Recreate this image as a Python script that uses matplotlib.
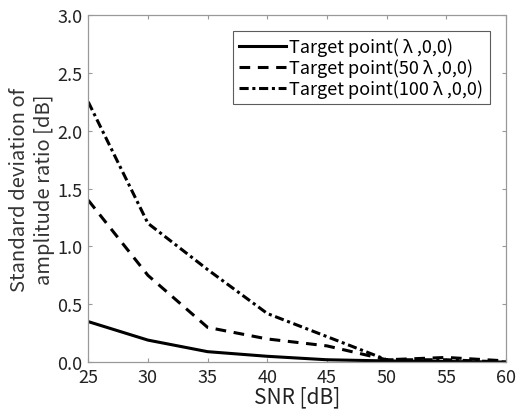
import matplotlib
matplotlib.use("Agg")
import matplotlib.pyplot as plt

plt.rcParams['font.family'] = ['Noto Sans CJK JP', 'DejaVu Sans']

snr = [25, 30, 35, 40, 45, 50, 55, 60]
std_lambda = [0.35, 0.19, 0.09, 0.05, 0.02, 0.01, 0.005, 0.0]
std_50lambda = [1.40, 0.75, 0.30, 0.20, 0.14, 0.02, 0.04, 0.01]
std_100lambda = [2.25, 1.20, 0.80, 0.42, 0.22, 0.02, 0.02, 0.0]
labels = ["Target point( λ ,0,0)", "Target point(50 λ ,0,0)", "Target point(100 λ ,0,0)"]
xticks = [25, 30, 35, 40, 45, 50, 55, 60]
yticks = [0.0, 0.5, 1.0, 1.5, 2.0, 2.5, 3.0]

fig = plt.figure(figsize=(5.19, 4.14), dpi=100)
ax = fig.add_axes([0.170, 0.123, 0.805, 0.838])

ax.plot(snr, std_lambda, color='black', lw=2.2, ls='-', label=labels[0])
ax.plot(snr, std_50lambda, color='black', lw=2.2, ls=(0, (3.5, 2.5)), label=labels[1])
ax.plot(snr, std_100lambda, color='black', lw=2.2, ls=(0, (3, 1.2, 1, 1.2)), label=labels[2])

ax.set_xlim(25, 60)
ax.set_ylim(0, 3.0)
ax.set_xticks(xticks)
ax.set_yticks(yticks)
ax.set_yticklabels([f"{v:.1f}" for v in yticks])
ax.tick_params(direction='in', top=True, right=True, length=3, color='#999999',
               labelsize=13, labelcolor='#222222', pad=4)
for s in ax.spines.values():
    s.set_linestyle((0, (1, 1)))
    s.set_color('#999999')
    s.set_linewidth(0.9)

ax.set_xlabel("SNR [dB]", fontsize=15, color='#222222', labelpad=0)
ax.set_ylabel("Standard deviation of\namplitude ratio [dB]", fontsize=14.5, color='#333333',
              labelpad=2, linespacing=1.25)

leg = ax.legend(loc='upper right', fontsize=13, frameon=True, fancybox=False,
                edgecolor='#333333', handlelength=2.6, handletextpad=0.2,
                borderpad=0.35, labelspacing=0.12, borderaxespad=0.9)
leg.get_frame().set_linewidth(0.8)

fig.savefig("out.png", dpi=100)
